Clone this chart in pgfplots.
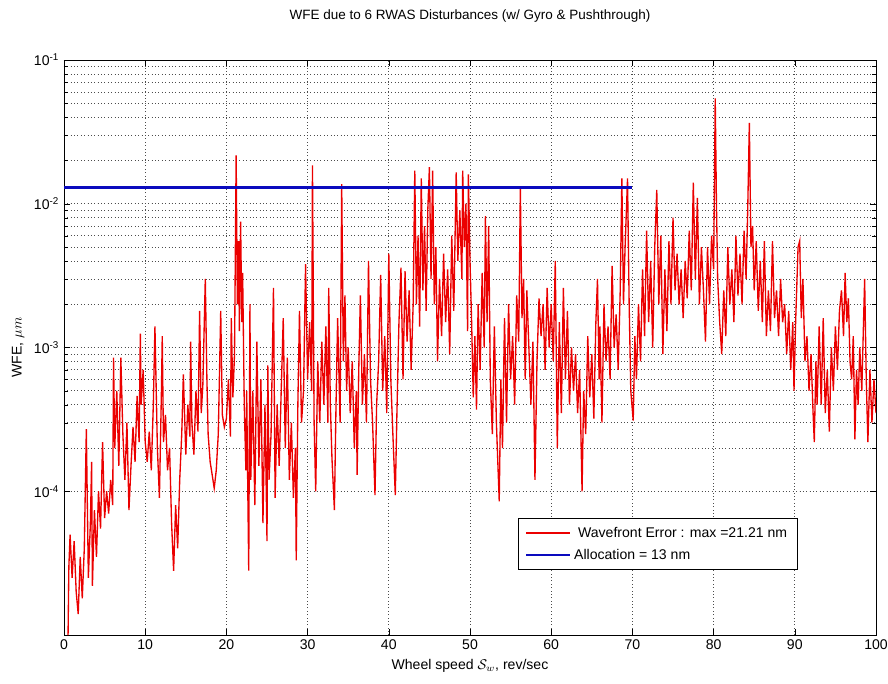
\documentclass[border=0pt]{standalone}
\usepackage{pgfplots}
\pgfplotsset{compat=1.18}
\usepackage{fontspec}
\setmainfont{Liberation Sans}
\usetikzlibrary{calc}
\definecolor{wfered}{RGB}{235,0,0}
\definecolor{allocblue}{RGB}{10,10,190}

\begin{document}
\begin{tikzpicture}
\begin{axis}[
    name=ax,
    scale only axis,
    width=203mm, height=143.75mm,
    ymode=log,
    xmin=0, xmax=100, ymin=1e-5, ymax=1e-1,
    xtick={0,10,...,100},
    ytick={1e-4,1e-3,1e-2,1e-1},
    yticklabels={10\textsuperscript{-4},10\textsuperscript{-3},10\textsuperscript{-2},10\textsuperscript{-1}},
    /pgf/number format/assume math mode=true,
    tick align=inside,
    xtick pos=both, ytick pos=both,
    grid=both,
    major grid style={dotted, black!70, line width=0.45pt},
    minor grid style={dotted, black!70, line width=0.45pt},
    minor x tick num=0,
    axis line style={black, line width=0.6pt},
    tick style={black},
    title={WFE due to 6 RWAS Disturbances (w/ Gyro \& Pushthrough)},
    title style={yshift=6mm, font=\fontsize{9.6}{11}\selectfont},
    xlabel={Wheel speed $\mathcal{S}_w$, rev/sec},
    ylabel={WFE, $\mu m$},
    label style={font=\normalsize},
    tick label style={font=\normalsize},
    legend cell align=left,
    legend style={at={(0.903,0.113)}, anchor=south east, draw=black,
        font=\normalsize, inner xsep=5pt, inner ysep=4pt, row sep=3pt},
    legend image code/.code={\draw[#1] (0mm,0mm) -- (11mm,0mm);},
]
\addplot[wfered, line width=0.95pt] coordinates {
(0.5,1.0e-5) (0.6,3.0e-5) (0.75,5.0e-5) (1.0,2.5e-5) (1.25,4.5e-5) (1.5,2.0e-5) (1.75,1.4e-5)
(2.0,3.5e-5) (2.25,1.8e-5) (2.5,4.0e-5) (2.75,2.7e-4) (3.0,2.5e-5) (3.25,6.0e-5) (3.4,1.6e-4)
(3.5,2.2e-5) (3.75,7.4e-5) (4.0,3.5e-5) (4.25,1.0e-4) (4.5,5.5e-5) (4.75,2.2e-4) (5.0,6.5e-5)
(5.25,1.0e-4) (5.5,7.0e-5) (5.75,1.2e-4) (6.0,8.0e-5) (6.1,8.5e-4) (6.25,2.0e-4) (6.5,5.0e-4)
(6.75,1.5e-4) (7.0,8.5e-4) (7.25,2.5e-4) (7.5,1.2e-4) (7.75,3.0e-4) (8.0,7.4e-5) (8.25,1.5e-4)
(8.5,2.8e-4) (8.75,1.6e-4) (9.0,4.6e-4) (9.25,2.2e-4) (9.4,1.25e-3) (9.5,4.0e-4) (9.75,7.0e-4)
(10.0,2.2e-4) (10.25,1.6e-4) (10.5,2.6e-4) (10.75,1.4e-4) (11.0,4.0e-4) (11.2,1.4e-3) (11.5,2.0e-4)
(11.75,9.0e-5) (12.0,5.0e-4) (12.1,1.2e-3) (12.25,2.2e-4) (12.5,3.4e-4) (12.75,1.4e-4) (13.0,2.0e-4)
(13.25,6.0e-5) (13.5,2.8e-5) (13.75,8.0e-5) (14.0,4.0e-5) (14.25,1.2e-4) (14.5,2.5e-4) (14.7,6.5e-4)
(15.0,1.8e-4) (15.25,4.0e-4) (15.5,2.4e-4) (15.6,1.1e-3) (15.75,3.0e-4) (16.0,1.8e-4) (16.25,5.0e-4)
(16.5,2.6e-4) (16.7,1.8e-3) (16.9,3.5e-4) (17.1,5.5e-4) (17.4,3.0e-3) (17.6,6.0e-4) (17.75,2.5e-4)
(18.0,1.6e-4) (18.25,1.3e-4) (18.5,1.05e-4) (18.75,1.4e-4) (19.0,2.5e-4) (19.3,1.8e-3) (19.5,3.4e-4)
(19.75,2.8e-4) (20.0,3.2e-4) (20.25,6.0e-4) (20.5,2.4e-4) (20.6,1.6e-3) (20.8,4.5e-4) (21.0,9.0e-4)
(21.2,2.17e-2) (21.35,2.0e-3) (21.5,5.5e-3) (21.6,1.3e-3) (21.75,7.5e-3) (21.9,1.5e-3) (22.0,3.3e-3)
(22.2,4.0e-4) (22.4,1.4e-4) (22.5,5.0e-4) (22.6,1.5e-4) (22.75,2.8e-5) (22.9,2.0e-3) (23.0,1.2e-4)
(23.25,5.0e-4) (23.5,8.0e-5) (23.75,1.1e-3) (24.0,1.5e-4) (24.25,6.0e-4) (24.5,6.0e-5) (24.75,4.0e-4)
(25.0,4.5e-5) (25.1,7.5e-4) (25.25,1.2e-4) (25.5,2.5e-4) (25.8,2.6e-3) (26.0,9.0e-5) (26.25,4.0e-4)
(26.5,1.5e-4) (26.75,5.0e-4) (27.0,1.6e-3) (27.25,2.0e-4) (27.5,8.5e-4) (27.75,1.2e-4) (28.0,3.0e-4)
(28.25,9.0e-5) (28.5,2.0e-4) (28.6,3.3e-5) (28.8,4.0e-4) (29.0,1.8e-3) (29.25,3.0e-4) (29.5,5.0e-4)
(29.75,3.8e-3) (30.0,6.0e-4) (30.25,1.5e-3) (30.5,5.0e-4) (30.6,1.85e-2) (30.8,3.0e-4) (31.0,1.0e-4)
(31.25,8.0e-4) (31.5,3.0e-4) (31.75,1.1e-3) (32.0,4.0e-4) (32.25,1.4e-3) (32.5,3.0e-4) (32.6,2.6e-3)
(32.8,4.0e-4) (33.0,1.7e-4) (33.3,7.4e-5) (33.5,4.0e-4) (33.7,1.6e-3) (34.0,3.0e-4) (34.2,1.37e-2)
(34.4,8.0e-4) (34.6,2.3e-3) (34.8,5.0e-4) (35.0,1.0e-3) (35.25,3.5e-4) (35.5,8.0e-4) (35.75,2.0e-4)
(36.0,5.0e-4) (36.1,1.3e-4) (36.3,7.0e-4) (36.5,2.3e-3) (36.75,4.0e-4) (37.0,9.0e-4) (37.25,3.0e-4)
(37.5,4.0e-3) (37.75,6.0e-4) (38.0,3.0e-4) (38.3,9.4e-5) (38.5,4.0e-4) (38.75,8.0e-4) (39.0,3.2e-3)
(39.25,5.0e-4) (39.5,1.2e-3) (39.75,3.5e-4) (40.0,4.5e-3) (40.25,6.0e-4) (40.5,2.5e-4) (40.8,9.4e-5)
(41.0,3.5e-4) (41.25,1.5e-3) (41.5,3.6e-3) (41.75,6.0e-4) (42.0,3.4e-3) (42.25,1.1e-3) (42.5,2.5e-3)
(42.75,7.0e-4) (43.0,2.0e-3) (43.2,1.7e-2) (43.4,2.0e-3) (43.6,6.0e-3) (43.8,1.4e-3) (44.0,1.5e-2)
(44.2,2.5e-3) (44.4,7.0e-3) (44.6,1.8e-3) (44.8,9.0e-3) (45.0,1.8e-2) (45.2,3.0e-3) (45.4,1.7e-2)
(45.6,2.0e-3) (45.8,5.0e-3) (46.0,8.0e-4) (46.25,3.0e-3) (46.5,1.2e-3) (46.75,4.5e-3) (47.0,1.5e-3)
(47.25,3.5e-3) (47.5,9.0e-4) (47.75,6.0e-3) (48.0,1.8e-3) (48.3,1.65e-2) (48.5,4.0e-3) (48.75,9.0e-3)
(49.0,3.0e-3) (49.1,1.7e-2) (49.3,5.0e-3) (49.5,1.0e-2) (49.7,1.3e-3) (49.8,1.6e-2) (50.0,4.0e-3)
(50.2,1.5e-3) (50.4,4.5e-4) (50.6,1.2e-3) (50.8,3.7e-4) (51.0,2.0e-3) (51.25,7.0e-4) (51.5,3.3e-3)
(51.75,1.0e-3) (51.9,8.2e-3) (52.1,1.5e-3) (52.3,7.0e-3) (52.5,6.0e-4) (52.75,2.5e-4) (53.0,1.4e-3)
(53.25,3.0e-4) (53.6,8.5e-5) (53.8,6.0e-4) (54.0,2.0e-4) (54.25,1.6e-3) (54.5,3.0e-4) (54.75,2.0e-3)
(55.0,6.0e-4) (55.25,1.2e-3) (55.5,4.0e-4) (55.75,2.3e-3) (56.0,1.1e-3) (56.2,1.3e-2) (56.4,1.6e-3)
(56.6,3.0e-3) (56.8,6.0e-4) (57.0,2.5e-3) (57.25,1.0e-3) (57.5,4.0e-4) (57.75,1.1e-3) (58.0,1.2e-4)
(58.25,8.0e-4) (58.5,2.2e-3) (58.75,1.2e-3) (59.0,2.0e-3) (59.25,7.0e-4) (59.5,2.6e-3) (59.75,1.0e-3)
(60.0,2.0e-3) (60.25,8.0e-4) (60.5,4.0e-3) (60.75,2.0e-4) (61.0,1.5e-3) (61.25,3.5e-4) (61.5,2.6e-3)
(61.75,6.0e-4) (62.0,1.8e-3) (62.25,4.0e-4) (62.5,1.0e-3) (62.75,5.0e-4) (63.0,9.0e-4) (63.25,3.5e-4)
(63.5,7.0e-4) (63.8,1.0e-4) (64.0,5.0e-4) (64.25,2.5e-4) (64.5,1.2e-3) (64.75,4.5e-4) (65.0,9.0e-4)
(65.25,3.2e-4) (65.5,1.5e-3) (65.7,3.0e-3) (65.9,6.0e-4) (66.0,1.4e-3) (66.25,3.0e-4) (66.5,2.0e-3)
(66.75,8.0e-4) (67.0,1.4e-3) (67.25,6.0e-4) (67.5,3.7e-3) (67.75,1.0e-3) (68.0,1.7e-3) (68.25,7.0e-4)
(68.5,2.5e-3) (68.7,1.5e-2) (68.9,2.0e-3) (69.1,5.0e-3) (69.4,1.5e-2) (69.6,2.0e-3) (69.8,5.0e-4)
(70.1,3.1e-4) (70.3,1.2e-3) (70.5,6.0e-4) (70.75,2.0e-3) (71.0,8.0e-4) (71.25,3.5e-3) (71.5,1.2e-3)
(71.75,6.5e-3) (72.0,1.5e-3) (72.25,4.0e-3) (72.5,1.0e-3) (72.75,5.0e-3) (73.0,1.25e-2) (73.25,2.0e-3)
(73.5,6.0e-3) (73.75,9.0e-4) (74.0,3.5e-3) (74.25,1.3e-3) (74.5,5.5e-3) (74.75,2.0e-3) (75.0,8.0e-3)
(75.25,2.5e-3) (75.5,4.5e-3) (75.75,2.0e-3) (76.0,3.5e-3) (76.25,1.6e-3) (76.5,4.0e-3) (76.75,2.2e-3)
(77.0,6.5e-3) (77.25,2.5e-3) (77.5,1.4e-2) (77.75,3.0e-3) (78.0,1.1e-2) (78.25,2.0e-3) (78.5,5.0e-3)
(78.75,2.5e-3) (79.0,1.1e-3) (79.25,5.0e-3) (79.5,2.0e-3) (79.75,6.0e-3) (80.0,3.5e-3) (80.2,5.4e-2)
(80.35,1.0e-2) (80.5,3.0e-3) (80.75,1.5e-3) (81.0,9.0e-4) (81.25,2.5e-3) (81.5,1.2e-3) (81.75,5.0e-3)
(82.0,2.0e-3) (82.25,3.5e-3) (82.5,1.5e-3) (82.75,6.0e-3) (83.0,2.3e-3) (83.25,4.5e-3) (83.5,2.0e-3)
(83.75,6.5e-3) (84.0,3.0e-3) (84.2,9.0e-3) (84.4,3.65e-2) (84.6,5.0e-3) (84.8,7.0e-3) (85.0,2.5e-3)
(85.25,5.5e-3) (85.5,1.8e-3) (85.75,4.0e-3) (86.0,1.5e-3) (86.25,5.5e-3) (86.5,1.2e-3) (86.75,2.5e-3)
(87.0,1.3e-3) (87.25,5.5e-3) (87.5,1.6e-3) (87.75,2.5e-3) (88.0,1.2e-3) (88.25,3.0e-3) (88.5,1.5e-3)
(88.75,2.0e-3) (89.0,9.0e-4) (89.25,1.8e-3) (89.5,7.0e-4) (89.75,1.5e-3) (89.9,5.0e-4) (90.1,1.5e-3)
(90.4,5.0e-3) (90.6,5.5e-3) (90.8,1.6e-3) (91.0,3.0e-3) (91.25,8.0e-4) (91.5,1.2e-3) (91.75,5.0e-4)
(92.0,9.0e-4) (92.25,3.5e-4) (92.4,2.2e-4) (92.6,8.0e-4) (92.75,4.0e-4) (93.0,1.4e-3) (93.25,4.0e-4)
(93.5,1.6e-3) (93.75,3.5e-4) (94.0,7.0e-4) (94.25,2.6e-4) (94.5,1.0e-3) (94.75,5.0e-4) (95.0,1.4e-3)
(95.25,7.0e-4) (95.5,1.8e-3) (95.75,2.5e-3) (96.0,1.2e-3) (96.2,3.3e-3) (96.4,1.5e-3) (96.6,2.2e-3)
(96.8,8.0e-4) (97.0,6.0e-4) (97.2,1.2e-3) (97.4,2.3e-4) (97.6,7.0e-4) (97.8,4.0e-4) (98.0,1.0e-3)
(98.25,5.0e-4) (98.5,1.8e-3) (98.6,3.0e-3) (98.8,6.0e-4) (99.0,2.2e-4) (99.25,7.0e-4) (99.5,3.0e-4)
(99.75,6.0e-4) (100,3.5e-4)
};
\addlegendentry{\ Wavefront Error : max =21.21 nm}
\addplot[allocblue, line width=1.6pt] coordinates {(0,0.013) (70,0.013)};
\addlegendentry{Allocation = 13 nm}
\end{axis}
\pgfresetboundingbox
\path ($(ax.south west)+(-16mm,-12mm)$) rectangle ($(ax.north east)+(3mm,15mm)$);
\end{tikzpicture}
\end{document}
